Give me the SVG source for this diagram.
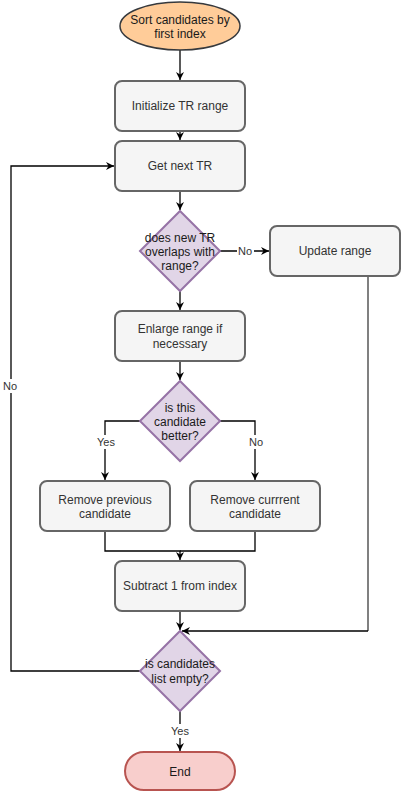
<svg xmlns="http://www.w3.org/2000/svg" width="401" height="792" viewBox="0 0 401 792">
<style>
.box{fill:#f5f5f5;stroke:#666666;stroke-width:2}
.dia{fill:#e1d5e7;stroke:#9673a6;stroke-width:2}
.t{font-family:"Liberation Sans",Arial,sans-serif;font-size:12px;text-anchor:middle;fill:#333333}
.td{font-family:"Liberation Sans",Arial,sans-serif;font-size:12px;text-anchor:middle;fill:#1a1a1a}
.lbl{font-family:"Liberation Sans",Arial,sans-serif;font-size:11px;text-anchor:middle;fill:#333333}
.e{fill:none;stroke:#000000;stroke-width:1.3}
</style>
<defs>
<marker id="arr" markerUnits="userSpaceOnUse" markerWidth="10" markerHeight="10" refX="8" refY="4" orient="auto">
<path d="M0,0 L8,4 L0,8 L2.5,4 z" fill="#000000"/>
</marker>
</defs>
<rect width="401" height="792" fill="#ffffff"/>
<g id="connectors">
<path class="e" d="M180,50 L180,80" marker-end="url(#arr)"/>
<path class="e" d="M180,131 L180,140" marker-end="url(#arr)"/>
<path class="e" d="M180,191 L180,210" marker-end="url(#arr)"/>
<path class="e" d="M220,251 L269,251" marker-end="url(#arr)"/>
<path class="e" d="M180,291 L180,310" marker-end="url(#arr)"/>
<path class="e" d="M180,361 L180,380" marker-end="url(#arr)"/>
<path class="e" d="M140,421 L105,421 L105,480" marker-end="url(#arr)"/>
<path class="e" d="M220,421 L255,421 L255,480" marker-end="url(#arr)"/>
<path class="e" d="M105,531 L105,551 L180,551 L180,560" marker-end="url(#arr)"/>
<path class="e" d="M255,531 L255,551 L180,551"/>
<path class="e" d="M180,611 L180,630" marker-end="url(#arr)"/>
<path d="M368,276 L368,631" fill="none" stroke="#808080" stroke-width="2"/>
<path class="e" d="M368,631 L182,631" marker-end="url(#arr)"/>
<path class="e" d="M140,671 L11,671 L11,166 L114,166" marker-end="url(#arr)"/>
<path class="e" d="M180,711 L180,751" marker-end="url(#arr)"/>
<rect x="237" y="244" width="17" height="14" fill="#ffffff"/>
<text class="lbl" x="245" y="255">No</text>
<rect x="96" y="435" width="20" height="14" fill="#ffffff"/>
<text class="lbl" x="106" y="446">Yes</text>
<rect x="247" y="435" width="17" height="14" fill="#ffffff"/>
<text class="lbl" x="256" y="446">No</text>
<rect x="2" y="379" width="17" height="14" fill="#ffffff"/>
<text class="lbl" x="10" y="390">No</text>
<rect x="170" y="724" width="20" height="14" fill="#ffffff"/>
<text class="lbl" x="180" y="735">Yes</text>
</g>
<g id="start">
<ellipse cx="180" cy="26" rx="60" ry="24" fill="#ffcc99" stroke="#36393d" stroke-width="1.5"/>
<text class="td" x="180" y="24">Sort candidates by</text>
<text class="td" x="180" y="38">first index</text>
</g>
<g id="init">
<rect class="box" x="115" y="81" width="130" height="50" rx="7"/>
<text class="t" x="180" y="110">Initialize TR range</text>
</g>
<g id="getnext">
<rect class="box" x="115" y="141" width="130" height="50" rx="7"/>
<text class="t" x="180" y="170">Get next TR</text>
</g>
<g id="overlap">
<path class="dia" d="M180,211 L220,251 L180,291 L140,251 z"/>
<text class="td" x="180" y="241.5">does new TR</text>
<text class="td" x="180" y="255.5">overlaps with</text>
<text class="td" x="180" y="269.5">range?</text>
</g>
<g id="update">
<rect class="box" x="270" y="226" width="130" height="50" rx="7"/>
<text class="t" x="335" y="255">Update range</text>
</g>
<g id="enlarge">
<rect class="box" x="115" y="311" width="130" height="50" rx="7"/>
<text class="t" x="180" y="333">Enlarge range if</text>
<text class="t" x="180" y="348">necessary</text>
</g>
<g id="better">
<path class="dia" d="M180,381 L220,421 L180,461 L140,421 z"/>
<text class="td" x="180" y="411.5">is this</text>
<text class="td" x="180" y="425.5">candidate</text>
<text class="td" x="180" y="439.5">better?</text>
</g>
<g id="removeprev">
<rect class="box" x="40" y="481" width="130" height="50" rx="7"/>
<text class="t" x="105" y="504">Remove previous</text>
<text class="t" x="105" y="518">candidate</text>
</g>
<g id="removecur">
<rect class="box" x="190" y="481" width="130" height="50" rx="7"/>
<text class="t" x="255" y="504">Remove currrent</text>
<text class="t" x="255" y="518">candidate</text>
</g>
<g id="subtract">
<rect class="box" x="115" y="561" width="130" height="50" rx="7"/>
<text class="t" x="180" y="590">Subtract 1 from index</text>
</g>
<g id="empty">
<path class="dia" d="M180,631 L220,671 L180,711 L140,671 z"/>
<text class="td" x="180" y="668">is candidates</text>
<text class="td" x="180" y="683">list empty?</text>
</g>
<g id="end">
<rect x="125" y="752" width="110" height="38" rx="19" fill="#f8cecc" stroke="#b85450" stroke-width="2"/>
<text class="td" x="180" y="775.5">End</text>
</g>
</svg>
